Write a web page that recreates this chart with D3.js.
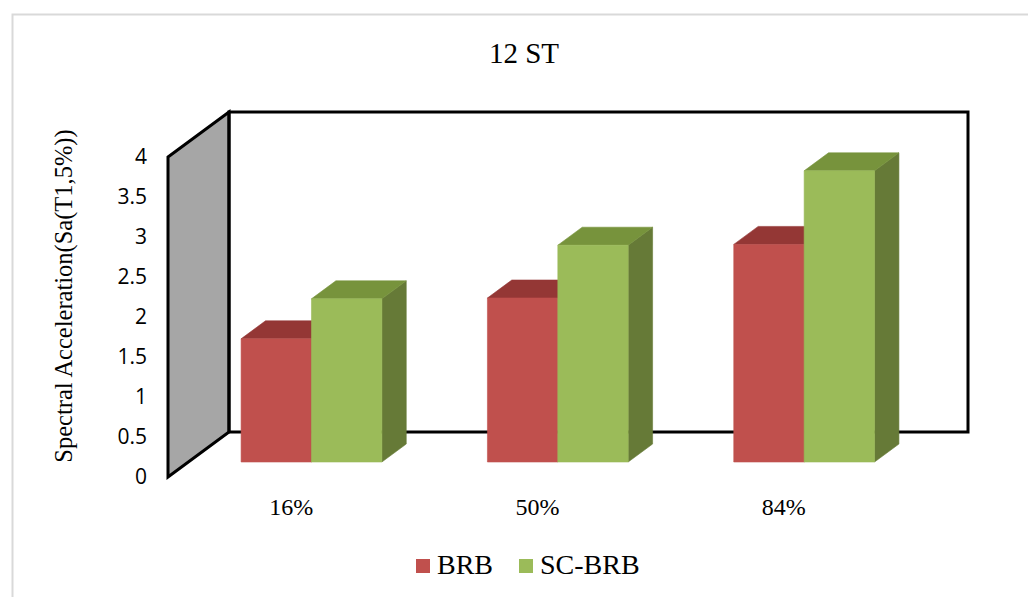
<!DOCTYPE html>
<html>
<head>
<meta charset="utf-8">
<script src="https://cdn.jsdelivr.net/npm/d3@7"></script>
<style>
  html, body { margin: 0; padding: 0; background: #fff; }
  svg { display: block; }
</style>
</head>
<body>
<svg id="chart" width="1028" height="597"></svg>
<script>
// Chart data
const categories = ["16%", "50%", "84%"];
const seriesNames = ["BRB", "SC-BRB"];
const brbValues = [1.54, 2.05, 2.72];
const scBrbValues = [2.04, 2.71, 3.64];
const yTicks = [0, 0.5, 1, 1.5, 2, 2.5, 3, 3.5, 4];

const colors = {
  "BRB": { front: "#c0504d", top: "#943735", side: "#7f2f2d" },
  "SC-BRB": { front: "#9bbb59", top: "#77933c", side: "#667a37" }
};

const svg = d3.select("#chart");

// Outer chart frame
svg.append("rect")
  .attr("x", 12.5).attr("y", 14.5)
  .attr("width", 1040).attr("height", 620)
  .attr("fill", "none").attr("stroke", "#d9d9d9").attr("stroke-width", 2);

// Oblique 3D projection: front plane plus a depth offset
const frontLeft = 168, frontRight = 907;
const depthDX = 61, depthDY = -45;
const y = d3.scaleLinear().domain([0, 4]).range([477, 157]);
const x = d3.scaleBand().domain(categories).range([frontLeft, frontRight]);
const proj = (px, v, d) => [px + depthDX * d, y(v) + depthDY * d];
const poly = pts => pts.map(p => p.join(",")).join(" ");

// Side wall (grey) and back wall outline
const wallPts = [proj(frontLeft, 4, 0), proj(frontLeft, 4, 1), proj(frontLeft, 0, 1), proj(frontLeft, 0, 0)];
svg.append("polygon")
  .attr("points", poly(wallPts))
  .attr("fill", "#a6a6a6").attr("stroke", "#000").attr("stroke-width", 3)
  .attr("stroke-linejoin", "miter");

const backPts = [proj(frontLeft, 0, 1), proj(frontLeft, 4, 1), proj(frontRight, 4, 1), proj(frontRight, 0, 1), proj(frontLeft, 0, 1)];
svg.append("polyline")
  .attr("points", poly(backPts))
  .attr("fill", "none").attr("stroke", "#000").attr("stroke-width", 3)
  .attr("stroke-linejoin", "miter");

// Bars
const gapRatio = 1.5;
const barW = x.bandwidth() / (seriesNames.length + gapRatio);
const d0 = 0.333, d1 = 0.733;
const series = [
  { name: "BRB", values: brbValues },
  { name: "SC-BRB", values: scBrbValues }
];

const barsG = svg.append("g");
const face = (pts, color) => barsG.append("polygon")
  .attr("points", poly(pts))
  .attr("fill", color).attr("stroke", color).attr("stroke-width", 0.6);

categories.forEach((cat, ci) => {
  const groupStart = x(cat) + (x.bandwidth() - barW * seriesNames.length) / 2;
  series.forEach((s, si) => {
    const v = s.values[ci];
    const x0 = groupStart + si * barW, x1 = x0 + barW;
    const c = colors[s.name];
    face([proj(x1, 0, d0), proj(x1, v, d0), proj(x1, v, d1), proj(x1, 0, d1)], c.side);   // side
    face([proj(x0, v, d0), proj(x0, v, d1), proj(x1, v, d1), proj(x1, v, d0)], c.top);    // top
    face([proj(x0, 0, d0), proj(x0, v, d0), proj(x1, v, d0), proj(x1, 0, d0)], c.front);  // front
  });
});

// Value axis labels
const yAxis = d3.axisLeft(y).tickValues(yTicks).tickSize(0).tickPadding(0).tickFormat(d => String(d));
const axisG = svg.append("g").attr("transform", "translate(147,0)").call(yAxis);
axisG.select(".domain").remove();
axisG.selectAll("text")
  .attr("font-family", "'Open Sans', 'Liberation Sans', sans-serif")
  .attr("font-size", 21).attr("fill", "#000");

// Category labels
svg.append("g").selectAll("text").data(categories).join("text")
  .attr("x", d => x(d) + x.bandwidth() / 2)
  .attr("y", 515)
  .attr("text-anchor", "middle")
  .attr("font-family", "'Liberation Serif', 'Times New Roman', serif")
  .attr("font-size", 24)
  .text(d => d);

// Title
svg.append("text")
  .attr("x", 524).attr("y", 63)
  .attr("text-anchor", "middle")
  .attr("font-family", "'Liberation Serif', 'Times New Roman', serif")
  .attr("font-size", 29)
  .text("12 ST");

// Value axis title
svg.append("text")
  .attr("transform", "translate(72,296) rotate(-90)")
  .attr("text-anchor", "middle")
  .attr("font-family", "'Liberation Serif', 'Times New Roman', serif")
  .attr("font-size", 24.5)
  .text("Spectral Acceleration(Sa(T1,5%))");

// Legend
const legendX = [416, 519];
const legend = svg.append("g").selectAll("g").data(seriesNames).join("g")
  .attr("transform", (d, i) => `translate(${legendX[i]},559)`);
legend.append("rect")
  .attr("width", 14).attr("height", 14)
  .attr("fill", d => colors[d].front);
legend.append("text")
  .attr("x", 21).attr("y", 15)
  .attr("font-family", "'Liberation Serif', 'Times New Roman', serif")
  .attr("font-size", 28)
  .text(d => d);
</script>
</body>
</html>
